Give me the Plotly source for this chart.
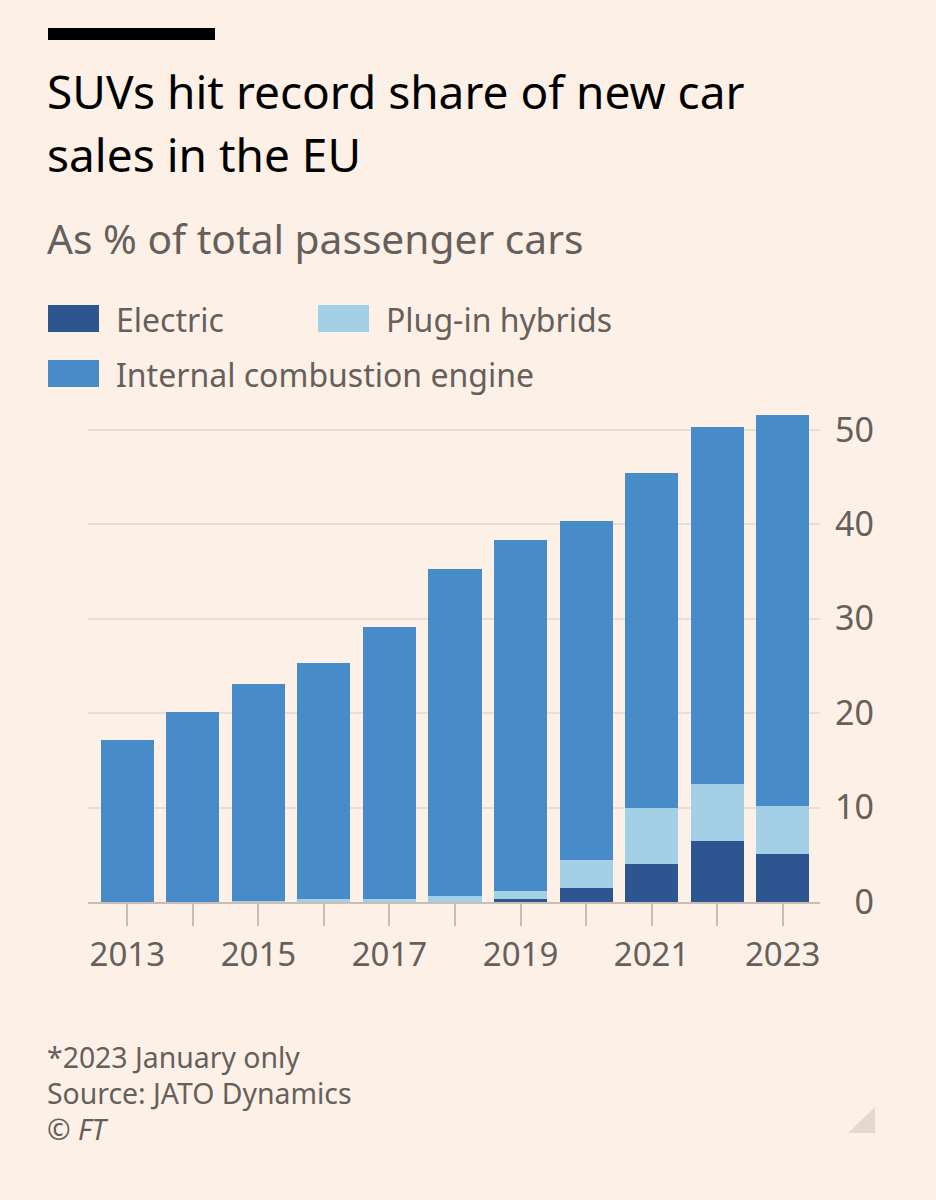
import plotly.graph_objects as go

# data (% of total passenger cars)
years = [2013, 2014, 2015, 2016, 2017, 2018, 2019, 2020, 2021, 2022, 2023]
total_share = [17.1, 20.1, 23.1, 25.3, 29.1, 35.2, 38.3, 40.3, 45.4, 50.3, 51.6]
electric = [0.0, 0.0, 0.0, 0.0, 0.0, 0.0, 0.32, 1.52, 4.04, 6.49, 5.04]
plug_in = [0.0, 0.05, 0.1, 0.28, 0.28, 0.67, 0.85, 2.91, 5.96, 6.01, 5.16]
ice = [round(t - e - p, 2) for t, e, p in zip(total_share, electric, plug_in)]

year_labels = [str(y) if y % 2 else "" for y in years]
y_ticks = [0, 10, 20, 30, 40, 50]
y_tick_text = ["\u2007" + str(v) if v < 10 else str(v) for v in y_ticks]

BG = "#FDF1E7"
GREY = "#66605C"
C_EV = "#2D5690"
C_PHEV = "#A3D0E6"
C_ICE = "#478BC9"
FONT = "Noto Sans"

W, H = 936, 1200
ML, MR, MT, MB = 88, 116, 406, 298
PW, PH = W - ML - MR, H - MT - MB


def px(x, y):
    """pixel position -> paper coords"""
    return (x - ML) / PW, (H - MB - y) / PH


fig = go.Figure()
for name, vals, col in [("Electric", electric, C_EV),
                        ("Plug-in hybrids", plug_in, C_PHEV),
                        ("Internal combustion engine", ice, C_ICE)]:
    fig.add_trace(go.Bar(x=years, y=vals, name=name, marker_color=col,
                         marker_line_width=0, width=0.81, showlegend=False))

shapes = []
annotations = []

# black bar above title
x0, y0 = px(48, 28)
x1, y1 = px(215, 40)
shapes.append(dict(type="rect", xref="paper", yref="paper", x0=x0, y0=y0, x1=x1, y1=y1,
                   fillcolor="#000000", line_width=0, layer="above"))


def text(s, x, y, size, color, **kw):
    ax, ay = px(x, y)
    annotations.append(dict(text=s, x=ax, y=ay, xref="paper", yref="paper",
                            xanchor="left", yanchor="middle", showarrow=False,
                            font=dict(family=FONT, size=size, color=color), **kw))


text("SUVs hit record share of new car", 45, 91, 46, "#000000")
text("sales in the EU", 45, 154, 46, "#000000")
text("As % of total passenger cars", 45, 238, 40.7, GREY)

# legend
for label, col, sx, sy in [("Electric", C_EV, 48, 305), ("Plug-in hybrids", C_PHEV, 318, 305),
                           ("Internal combustion engine", C_ICE, 48, 360)]:
    a0, b0 = px(sx, sy)
    a1, b1 = px(sx + 51, sy + 27)
    shapes.append(dict(type="rect", xref="paper", yref="paper", x0=a0, y0=b0, x1=a1, y1=b1,
                       fillcolor=col, line_width=0))
    text(label, sx + 66, sy + 14, 32, GREY)

# footer
text("*2023 January only", 45, 1057, 28.4, GREY)
text("Source: JATO Dynamics", 45, 1093, 28.4, GREY)
text("<i>© FT</i>", 45, 1129, 28.4, GREY)

# corner triangle
p1, p2, p3 = px(875, 1107), px(875, 1133), px(848, 1133)
shapes.append(dict(type="path", xref="paper", yref="paper",
                   path=f"M {p1[0]},{p1[1]} L {p2[0]},{p2[1]} L {p3[0]},{p3[1]} Z",
                   fillcolor="#E3D9CF", line_width=0))

fig.update_layout(
    barmode="stack",
    width=W, height=H,
    margin=dict(l=ML, r=MR, t=MT, b=MB, pad=0),
    paper_bgcolor=BG, plot_bgcolor=BG,
    bargap=0,
    shapes=shapes,
    annotations=annotations,
    font=dict(family=FONT, color=GREY),
)
fig.update_xaxes(range=[2012.4, 2023.57], tickvals=years, ticktext=year_labels,
                 ticks="outside", ticklen=22, tickwidth=1.5, tickcolor="#C8BEB4",
                 showline=True, linecolor="#C8BEB4", linewidth=2,
                 showgrid=False, zeroline=False,
                 tickfont=dict(size=33, color=GREY, family=FONT))
fig.update_yaxes(side="right", range=[0, 52.5], tickvals=y_ticks, ticktext=y_tick_text,
                 showgrid=True, gridcolor="#E9DED4", gridwidth=1.5,
                 zeroline=False, showline=False, ticks="", ticklabelstandoff=14,
                 tickfont=dict(size=34, color=GREY, family=FONT))

# drop the default page margin so the figure sits flush in the window
fig.write_html("out.html", config={"displayModeBar": False},
               post_script="document.body.style.margin='0';")
